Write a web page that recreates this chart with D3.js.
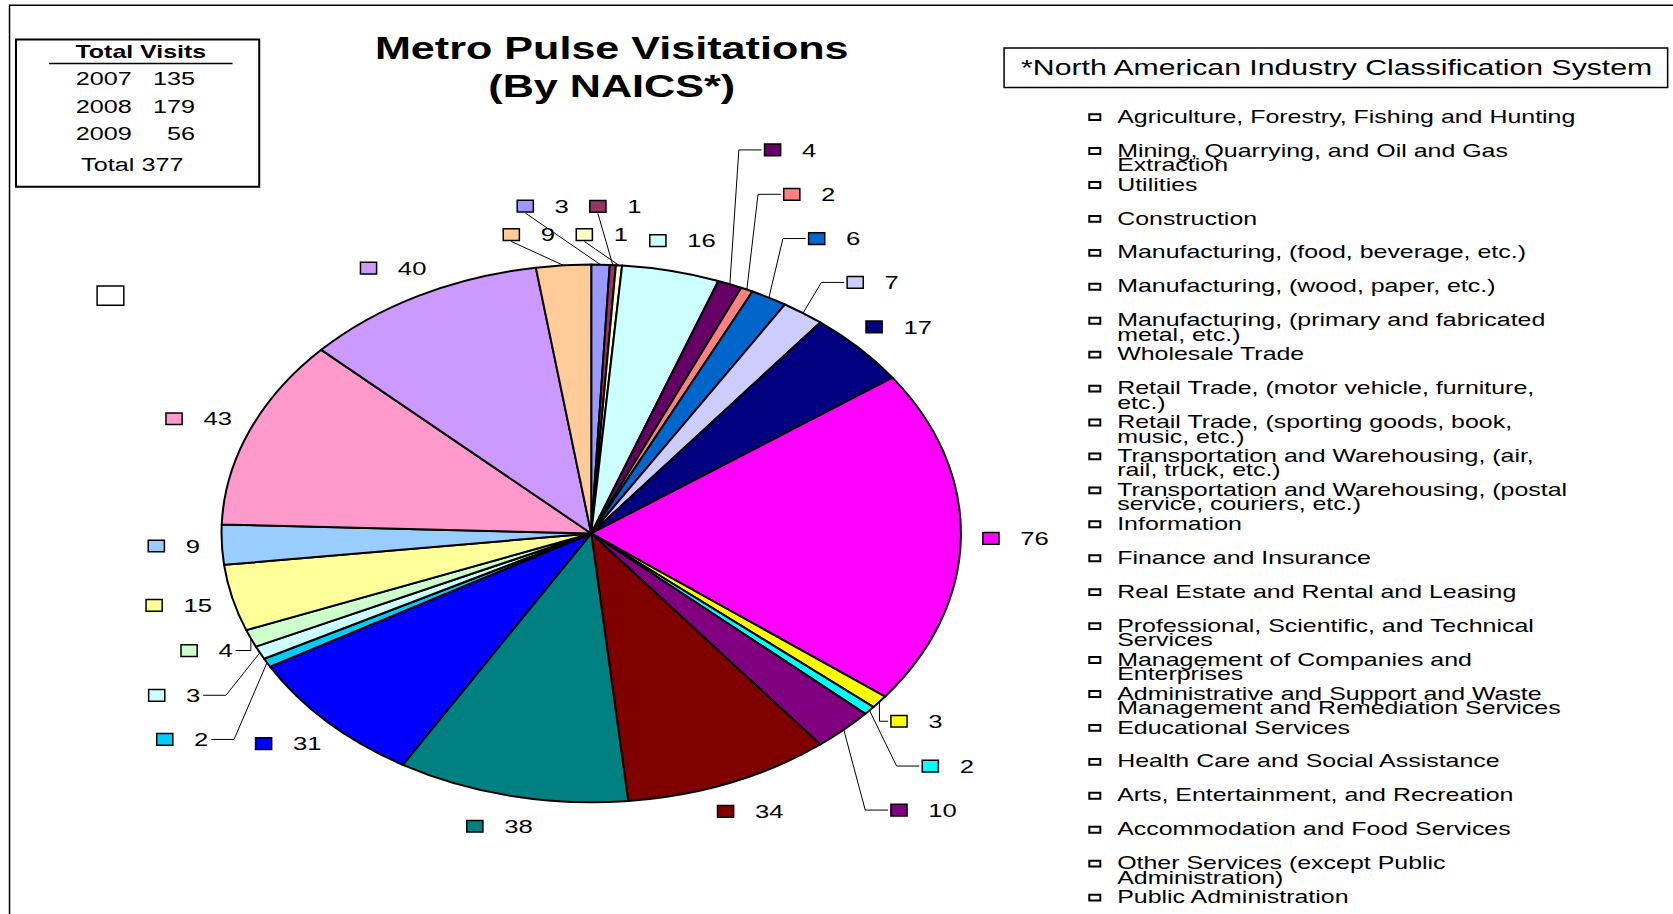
<!DOCTYPE html>
<html>
<head>
<meta charset="utf-8">
<script src="https://cdn.jsdelivr.net/npm/d3@7"></script>
<style>
  html, body { margin: 0; padding: 0; background: #fff; overflow: hidden; }
  text { font-family: "Liberation Sans", Arial, sans-serif; fill: #000; }
  .outline { vector-effect: non-scaling-stroke; }
</style>
</head>
<body>
<div id="chartDivId"></div>
<script>
// NAICS categories, in the order of the slices (clockwise from 12 o'clock)
const categories = [
    "Agriculture, Forestry, Fishing and Hunting",
    "Mining, Quarrying, and Oil and Gas|Extraction",
    "Utilities",
    "Construction",
    "Manufacturing, (food, beverage, etc.)",
    "Manufacturing, (wood, paper, etc.)",
    "Manufacturing, (primary and fabricated|metal, etc.)",
    "Wholesale Trade",
    "Retail Trade, (motor vehicle, furniture,|etc.)",
    "Retail Trade, (sporting goods, book,|music, etc.)",
    "Transportation and Warehousing, (air,|rail, truck, etc.)",
    "Transportation and Warehousing, (postal|service, couriers, etc.)",
    "Information",
    "Finance and Insurance",
    "Real Estate and Rental and Leasing",
    "Professional, Scientific, and Technical|Services",
    "Management of Companies and|Enterprises",
    "Administrative and Support and Waste|Management and Remediation Services",
    "Educational Services",
    "Health Care and Social Assistance",
    "Arts, Entertainment, and Recreation",
    "Accommodation and Food Services",
    "Other Services (except Public|Administration)",
    "Public Administration"
];
const visits = [3, 1, 1, 16, 4, 2, 6, 7, 17, 76, 3, 2, 10, 34, 38, 31, 2, 3, 4, 15, 9, 43, 40, 9];

// Old spreadsheet fill palette
const palette = ["#9999FF", "#993366", "#FFFFCC", "#CCFFFF", "#660066", "#FF8080", "#0066CC", "#CCCCFF",
                 "#000080", "#FF00FF", "#FFFF00", "#00FFFF", "#800080", "#800000", "#008080", "#0000FF",
                 "#00CCFF", "#CCFFFF", "#CCFFCC", "#FFFF99", "#99CCFF", "#FF99CC", "#CC99FF", "#FFCC99"];

// Summary box
const years = ["2007", "2008", "2009"];
const yearVisits = [135, 179, 56];
const totalVisits = 377;

const titleLines = ["Metro Pulse Visitations", "(By NAICS*)"];
const legendTitle = "*North American Industry Classification System";

// The picture is stretched sideways, so draw in a narrow space and scale it out
const W = 1673, H = 914;
const S = W / 1568;
const K = 1.375;

const svg = d3.select("#chartDivId")
    .append("svg")
    .attr("width", W)
    .attr("height", H);

const root = svg.append("g")
    .attr("transform", "scale(" + (S * K) + "," + S + ")");

// outer frame (cut off at right and bottom)
root.append("rect")
    .attr("class", "outline")
    .attr("x", 6.5).attr("y", 5)
    .attr("width", 1200).attr("height", 900)
    .attr("fill", "none").attr("stroke", "#000").attr("stroke-width", 1.5);

// Title
root.append("text")
    .attr("x", 417).attr("y", 55.5)
    .attr("text-anchor", "middle")
    .style("font-size", "29.4px").style("font-weight", "bold")
    .text(titleLines[0]);
root.append("text")
    .attr("x", 417).attr("y", 91)
    .attr("text-anchor", "middle")
    .style("font-size", "29.4px").style("font-weight", "bold")
    .text(titleLines[1]);

// Total visits box
const box = root.append("g");
box.append("rect")
    .attr("class", "outline")
    .attr("x", 10.9).attr("y", 37).attr("width", 165.8).attr("height", 138)
    .attr("fill", "#fff").attr("stroke", "#000").attr("stroke-width", 2);
box.append("text")
    .attr("x", 96).attr("y", 54)
    .attr("text-anchor", "middle")
    .style("font-size", "17px").style("font-weight", "bold")
    .text("Total Visits");
box.append("line")
    .attr("class", "outline")
    .attr("x1", 33.5).attr("x2", 158.5).attr("y1", 59.5).attr("y2", 59.5)
    .attr("stroke", "#000").attr("stroke-width", 1.5);
years.forEach(function(yr, i) {
    box.append("text")
        .attr("x", 51.6).attr("y", 80 + i * 25.5)
        .style("font-size", "17.2px")
        .text(yr);
    box.append("text")
        .attr("x", 133).attr("y", 80 + i * 25.5)
        .attr("text-anchor", "end")
        .style("font-size", "17.2px")
        .text(yearVisits[i]);
});
box.append("text")
    .attr("x", 55.3).attr("y", 160)
    .style("font-size", "17.2px")
    .text("Total " + totalVisits);

// stray empty legend key
root.append("rect")
    .attr("class", "outline")
    .attr("x", 66.2).attr("y", 268).attr("width", 18.2).attr("height", 18)
    .attr("fill", "#fff").attr("stroke", "#000").attr("stroke-width", 1.5);

// Pie
const cx = 403, cy = 500, R = 252;
const pie = d3.pie().sort(null).value(function(d) { return d; });
const arcs = pie(visits);
const arc = d3.arc().innerRadius(0).outerRadius(R);

const pieG = root.append("g").attr("transform", "translate(" + cx + "," + cy + ")");
pieG.selectAll("path.slice")
    .data(arcs)
    .enter().append("path")
    .attr("class", "slice outline")
    .attr("d", arc)
    .attr("fill", function(d, i) { return palette[i]; })
    .attr("stroke", "#000")
    .attr("stroke-width", 2)
    .attr("stroke-linejoin", "round");

// Data labels: start just outside the slice, then push apart the ones that clash
const sq = 11, gap = 14.5, digitW = 9.7, rowGap = 41;
const labels = arcs.map(function(a, i) {
    const mid = (a.startAngle + a.endAngle) / 2;
    const s = Math.sin(mid), c = Math.cos(mid);
    const w = sq + gap + String(visits[i]).length * digitW;
    const px = cx + R * s, py = cy - R * c;
    return { i: i, mid: mid, s: s, c: c, w: w, px: px, py: py,
             nx: px + s * (w / 2 + 15), ny: py - c * 29 };
});

const placed = [];
function hits(l, x, y, marginX, gapY) {
    return placed.some(function(p) {
        return Math.abs(p.x - x) < (p.w + l.w) / 2 + marginX && Math.abs(p.y - y) < gapY;
    });
}
// on the sides a label must sit a full row beyond the ones already stacked in its quarter
function sideHits(l, x, y, dirY) {
    return placed.some(function(p) {
        if (Math.abs(p.x - x) >= (p.w + l.w) / 2 + 22) return false;
        const sameQuarter = (p.s >= 0) === (l.s >= 0) && (p.c >= 0) === (l.c >= 0);
        if (sameQuarter) return dirY * (y - p.y) < rowGap;
        return Math.abs(p.y - y) < rowGap;
    });
}

const order = labels.slice().sort(function(a, b) { return Math.abs(a.c) - Math.abs(b.c); });
order.forEach(function(l) {
    const dirY = l.c > 0 ? -1 : 1;
    let x = l.nx, y = l.ny;
    if (Math.abs(l.s) > 0.3) {
        // sides: stack away from the horizontal axis, stepping outwards
        const shiftX = 29 * (l.s >= 0 ? 1 : -1);
        while (sideHits(l, x, y, dirY)) {
            x = l.nx + shiftX;
            y += dirY;
        }
    } else if (hits(l, x, y, 14, 26)) {
        // near the top / bottom: nearest free spot
        let best = null, bestCost = Infinity;
        for (let dy = 0; dy <= 90; dy++) {
            for (let dx = -70; dx <= 70; dx++) {
                const cost = dx * dx + dy * dy;
                if (cost >= bestCost) continue;
                if (!hits(l, l.nx + dx, l.ny + dirY * dy, 14, 26)) {
                    best = [l.nx + dx, l.ny + dirY * dy];
                    bestCost = cost;
                }
            }
        }
        x = best[0]; y = best[1];
    }
    l.x = x; l.y = y;
    l.moved = Math.hypot(x - l.nx, y - l.ny) > 2;
    placed.push(l);
});

const labelG = root.append("g");

// leader lines
labels.forEach(function(l) {
    if (!l.moved && visits[l.i] > 4) return;
    let pts;
    if (Math.abs(l.s) < 0.3) {
        pts = [[l.px, l.py], [l.x - l.w / 2 + sq / 2, l.y + sq / 2 + 1]];
    } else if (l.s > 0) {
        const left = l.x - l.w / 2;
        const ex = Math.max(left - 17.5, l.px);
        pts = [[l.px, l.py], [ex, l.y], [left - 2, l.y]];
    } else {
        const right = l.x + l.w / 2;
        const ex = Math.min(right + 17.5, l.px);
        pts = [[l.px, l.py], [ex, l.y], [right + 2, l.y]];
    }
    labelG.append("path")
        .attr("class", "outline")
        .attr("d", d3.line()(pts))
        .attr("fill", "none")
        .attr("stroke", "#000")
        .attr("stroke-width", 1);
});

const lab = labelG.selectAll("g.lab")
    .data(labels)
    .enter().append("g")
    .attr("class", "lab")
    .attr("transform", function(l) { return "translate(" + (l.x - l.w / 2) + "," + l.y + ")"; });
lab.append("rect")
    .attr("class", "outline")
    .attr("x", 0).attr("y", -5.5).attr("width", sq).attr("height", 11)
    .attr("fill", function(l) { return palette[l.i]; })
    .attr("stroke", "#000").attr("stroke-width", 1.5);
lab.append("text")
    .attr("x", sq + gap).attr("y", 6.3)
    .style("font-size", "17.5px")
    .text(function(l) { return visits[l.i]; });

// Legend
const legendX = 684.4;
root.append("rect")
    .attr("class", "outline")
    .attr("x", legendX).attr("y", 45).attr("width", 452.3).attr("height", 37)
    .attr("fill", "#fff").attr("stroke", "#000").attr("stroke-width", 1.5);
root.append("text")
    .attr("x", 696).attr("y", 70.5)
    .style("font-size", "20.6px")
    .text(legendTitle);

const legendY = d3.scaleLinear().domain([0, categories.length - 1]).range([109, 840.5]);
const items = root.selectAll("g.legitem")
    .data(categories)
    .enter().append("g")
    .attr("class", "legitem")
    .attr("transform", function(d, i) { return "translate(742.5," + legendY(i) + ")"; });
items.append("rect")
    .attr("class", "outline")
    .attr("x", 0).attr("y", -2).attr("width", 7.5).attr("height", 5.5)
    .attr("fill", "#fff").attr("stroke", "#000").attr("stroke-width", 2);
items.each(function(d) {
    const g = d3.select(this);
    d.split("|").forEach(function(line, k) {
        g.append("text")
            .attr("x", 19).attr("y", 6 + k * 13.5)
            .style("font-size", "17px")
            .text(line);
    });
});
</script>
</body>
</html>
